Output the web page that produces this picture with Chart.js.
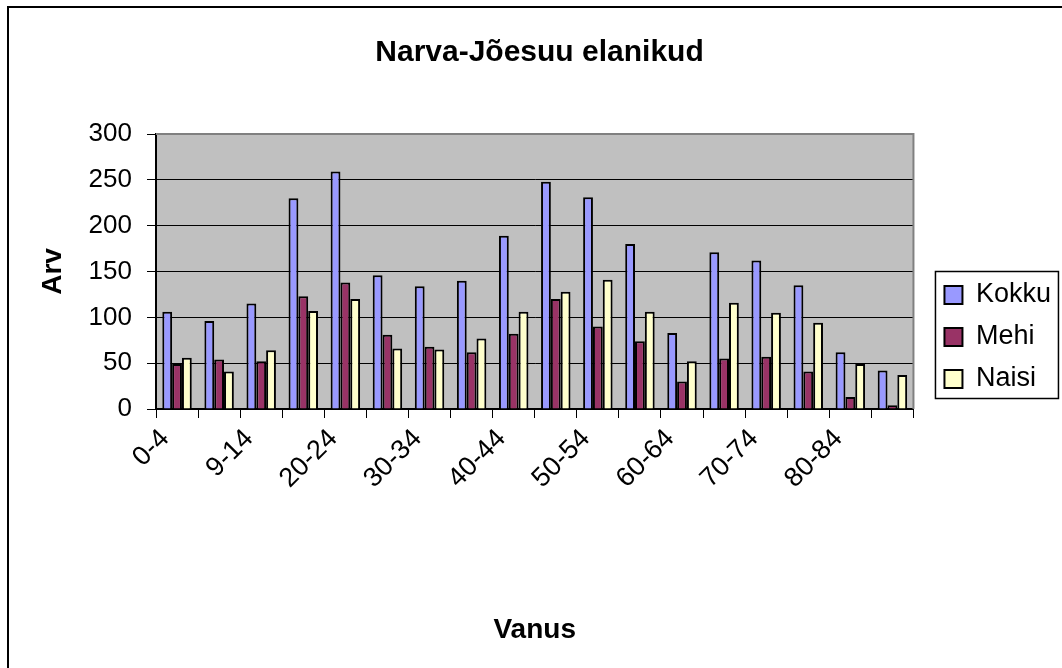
<!DOCTYPE html>
<html lang="et">
<head>
    <meta charset="UTF-8">
    <title>Narva-Jõesuu elanikud</title>
    <script src="https://cdn.jsdelivr.net/npm/chart.js"></script>
    <style>
        body {
            margin: 0;
            background: #fff;
        }
        .chart-box {
            width: 1062px;
            height: 668px;
        }
    </style>
</head>
<body>
    <div class="chart-box">
        <canvas id="elanikudChart" width="1062" height="668"></canvas>
    </div>

    <script>
        // vanuserühmad (iga teine silt on graafikul peidetud)
        const vanus = ['0-4', '5-8', '9-14', '15-19', '20-24', '25-29', '30-34', '35-39', '40-44',
                       '45-49', '50-54', '55-59', '60-64', '65-69', '70-74', '75-79', '80-84', '85+'];
        const kokku = [106, 96, 115, 230, 259, 146, 134, 140, 189, 248, 231, 180, 83, 171, 162, 135, 62, 42];
        const mehi  = [49, 54, 52, 123, 138, 81, 68, 62, 82, 120, 90, 74, 30, 55, 57, 41, 13, 4];
        const naisi = [56, 41, 64, 107, 120, 66, 65, 77, 106, 128, 141, 106, 52, 116, 105, 94, 49, 37];
        const yTicks = [0, 50, 100, 150, 200, 250, 300];

        Chart.defaults.font.family = "'Liberation Sans', Arial, sans-serif";
        Chart.defaults.color = '#000';

        // hall joonise ala, raam ja legendi kast
        const excelLook = {
            id: 'excelLook',
            afterLayout(chart) {
                // legend veidi paremale ja alla, nagu Excelis
                const lg = chart.legend;
                if (lg) {
                    lg.left += 16; lg.right += 16;
                    lg.top += 3; lg.bottom += 3;
                }
            },
            beforeDraw(chart) {
                const { ctx, chartArea: a } = chart;
                ctx.save();
                ctx.fillStyle = '#fff';
                ctx.fillRect(0, 0, chart.width, chart.height);
                ctx.fillStyle = '#c0c0c0';
                ctx.fillRect(a.left, a.top, a.right - a.left, a.bottom - a.top);
                ctx.restore();
            },
            afterDraw(chart) {
                const { ctx, chartArea: a } = chart;
                ctx.save();
                // joonise ala serv
                ctx.strokeStyle = '#808080';
                ctx.lineWidth = 2;
                ctx.beginPath();
                ctx.moveTo(a.left, a.top);
                ctx.lineTo(a.right, a.top);
                ctx.lineTo(a.right, a.bottom);
                ctx.stroke();

                // välimine raam (ainult üleval ja vasakul näha)
                ctx.strokeStyle = '#000';
                ctx.lineWidth = 2;
                ctx.beginPath();
                ctx.moveTo(8, 668);
                ctx.lineTo(8, 7);
                ctx.lineTo(1062, 7);
                ctx.stroke();

                // legendi kast
                const hb = chart.legend.legendHitBoxes;
                if (hb && hb.length) {
                    const first = hb[0];
                    const last = hb[hb.length - 1];
                    ctx.lineWidth = 1.5;
                    ctx.strokeRect(first.left - 9, first.top - 10, 123, last.top + last.height - first.top + 16);
                }
                ctx.restore();
            }
        };

        const ctx = document.getElementById('elanikudChart').getContext('2d');
        const elanikudChart = new Chart(ctx, {
            type: 'bar',
            data: {
                labels: vanus,
                datasets: [
                    { label: 'Kokku', data: kokku, backgroundColor: '#9999ff' },
                    { label: 'Mehi', data: mehi, backgroundColor: '#993366' },
                    { label: 'Naisi', data: naisi, backgroundColor: '#ffffcc' }
                ]
            },
            options: {
                responsive: false,
                animation: false,
                layout: {
                    padding: { left: 34, right: 17, top: 0, bottom: 0 }
                },
                datasets: {
                    bar: {
                        borderColor: '#000',
                        borderWidth: 2,
                        categoryPercentage: 0.7,
                        barPercentage: 1
                    }
                },
                plugins: {
                    title: {
                        display: true,
                        text: 'Narva-Jõesuu elanikud',
                        font: { size: 30, weight: 'bold' },
                        padding: { top: 35, bottom: 63 }
                    },
                    legend: {
                        position: 'right',
                        labels: {
                            font: { size: 27 },
                            boxWidth: 18,
                            boxHeight: 18,
                            padding: 15
                        }
                    },
                    tooltip: { enabled: false }
                },
                scales: {
                    x: {
                        afterFit: (scale) => { scale.height = 259; },
                        grid: {
                            offset: true,
                            drawOnChartArea: false,
                            tickLength: 9,
                            tickColor: '#000'
                        },
                        border: { color: '#000', width: 2 },
                        ticks: {
                            autoSkip: false,
                            minRotation: 45,
                            maxRotation: 45,
                            padding: 5,
                            labelOffset: -12,
                            font: { size: 27 },
                            callback: function (value, index) {
                                return index % 2 === 0 ? this.getLabelForValue(value) : '';
                            }
                        },
                        title: {
                            display: true,
                            text: 'Vanus',
                            font: { size: 28, weight: 'bold' },
                            padding: { top: 0, bottom: 21 }
                        }
                    },
                    y: {
                        min: 0,
                        max: 300,
                        afterFit: (scale) => { scale.width = 122; },
                        afterBuildTicks: (scale) => { scale.ticks = yTicks.map(v => ({ value: v })); },
                        grid: {
                            color: '#000',
                            lineWidth: 1,
                            tickLength: 9,
                            tickColor: '#000'
                        },
                        border: { color: '#000', width: 2 },
                        ticks: {
                            padding: 15,
                            font: { size: 26 }
                        },
                        title: {
                            display: true,
                            text: 'Arv',
                            font: { size: 28, weight: 'bold' },
                            padding: { top: 2, bottom: 0 }
                        }
                    }
                }
            },
            plugins: [excelLook]
        });
    </script>
</body>
</html>
